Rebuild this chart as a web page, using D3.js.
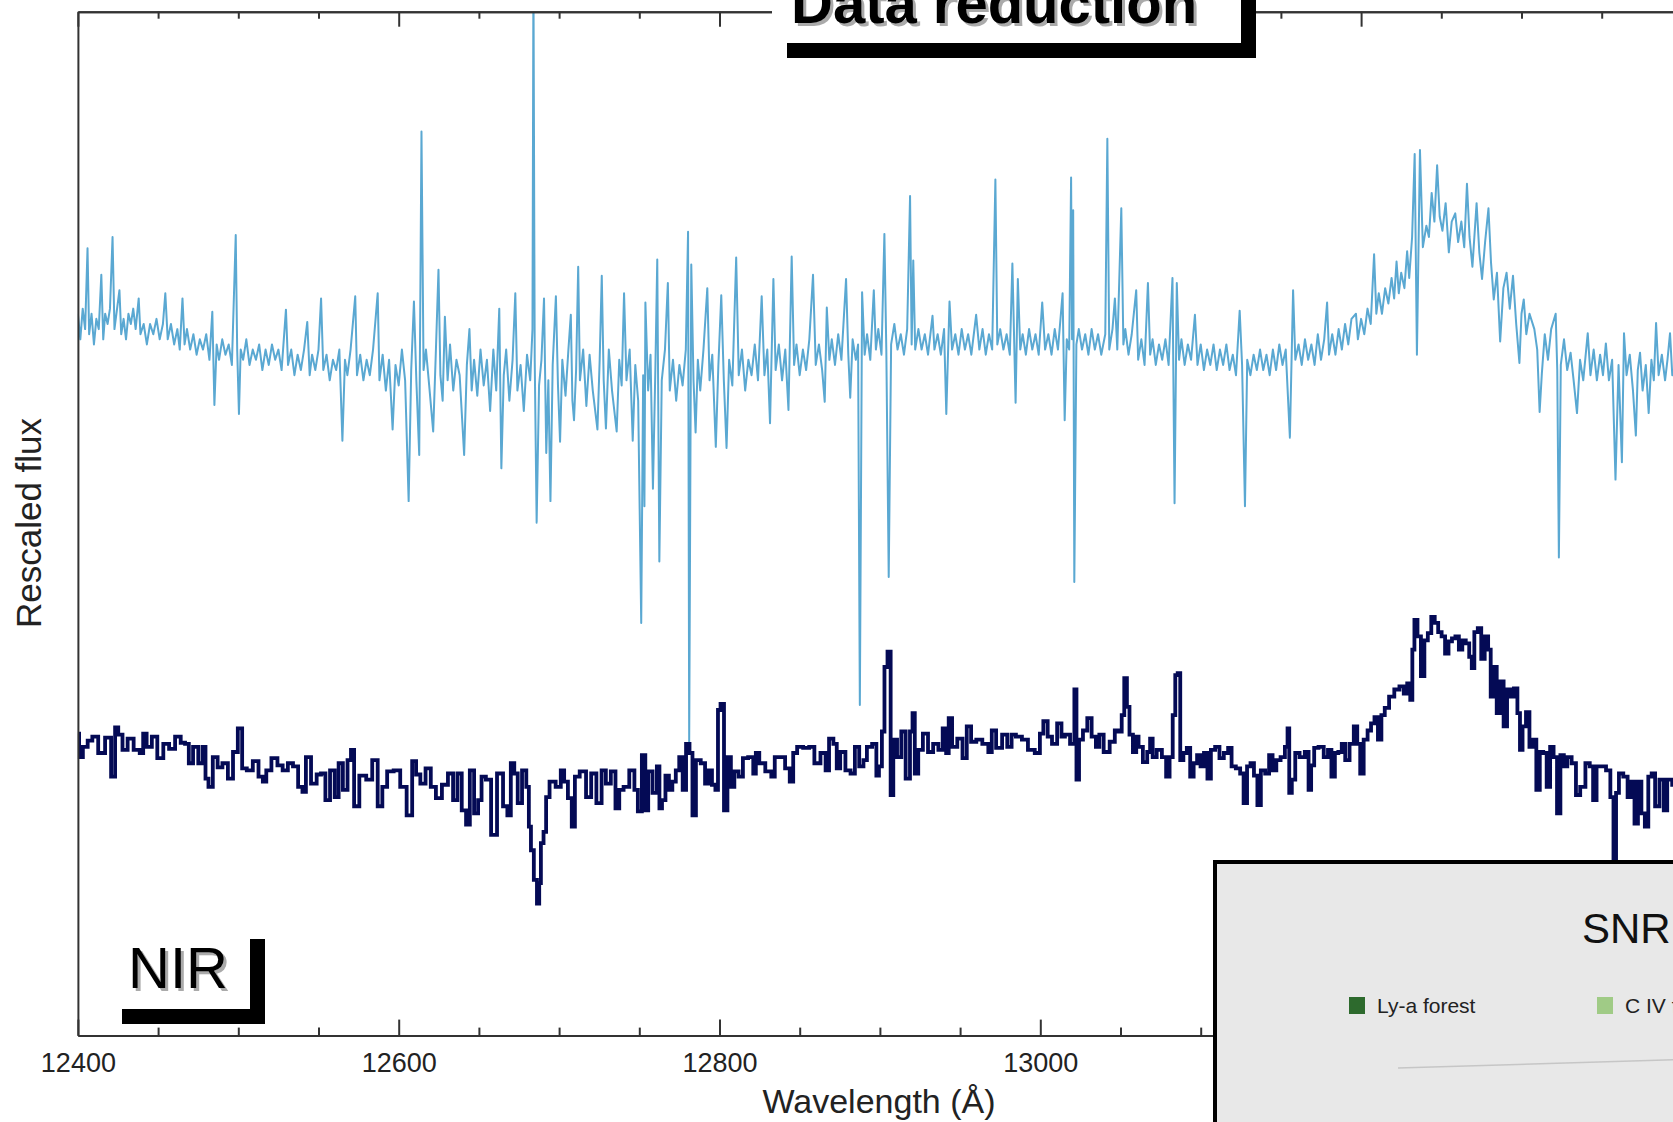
<!DOCTYPE html>
<html><head><meta charset="utf-8">
<script src="https://cdn.jsdelivr.net/npm/d3@7"></script>
<style>
html,body{margin:0;padding:0;background:#fff;}
svg{display:block;}
text{font-family:"Liberation Sans",Arial,Helvetica,sans-serif;}
</style></head>
<body>
<svg id="chart" width="1673" height="1122"></svg>
<script>
// ---------- DATA ----------
const xDomain = [12400, 13400];
const yDomain = [0, 10];
const xMajorTicks = [12400, 12600, 12800, 13000, 13200, 13400];
const xMinorTicks = [12450, 12500, 12550, 12650, 12700, 12750, 12850, 12900, 12950, 13050, 13100, 13150, 13250, 13300, 13350];
const xTickLabels = ["12400", "12600", "12800", "13000", "13200", ""];
const xTitle = "Wavelength (Å)";
const yTitle = "Rescaled flux";
const panelTitle = "Data reduction";
const bandLabel = "NIR";
const insetTitle = "SNR";
const insetLegend = ["Ly-a forest", "C IV forest"];

// light blue: unbinned spectrum [wavelength, flux]
const rawSpectrum = [
[12400,7.05],[12401.5,6.80],[12403,7.10],[12404.5,6.90],[12406,7.69],[12407,6.85],[12408.5,7.05],[12410,6.75],[12411.5,7.00],[12413,6.90],[12414.6,7.43],[12415.8,6.80],[12417,7.05],[12418.5,6.95],[12420,7.10],[12421.6,7.80],[12422.8,6.90],[12424,7.05],[12425.9,7.28],[12427,6.85],[12428.5,7.00],[12430,6.80],[12431.5,7.05],[12433,6.95],[12434.5,7.10],[12436,6.90],[12437.9,7.20],[12439,6.85],[12441,6.95],[12443,6.75],[12445,6.95],[12447,6.85],[12449,7.00],[12451,6.80],[12453,6.95],[12454.5,7.25],[12456,6.80],[12458,6.95],[12460,6.75],[12462,6.90],[12463.5,6.70],[12465.2,7.20],[12466.5,6.75],[12468,6.90],[12470,6.70],[12472,6.85],[12474,6.65],[12476,6.80],[12478,6.70],[12480,6.85],[12482,6.60],[12483.8,7.07],[12485.1,6.16],[12486.5,6.75],[12488,6.60],[12490,6.80],[12492,6.65],[12494,6.75],[12496,6.55],[12498.4,7.82],[12499.3,6.70],[12500.4,6.07],[12501.5,6.70],[12503,6.60],[12505,6.80],[12507,6.55],[12509,6.70],[12511,6.60],[12513,6.75],[12515,6.50],[12517,6.70],[12519,6.55],[12521,6.75],[12523,6.60],[12525,6.70],[12527,6.50],[12529.7,7.09],[12531,6.55],[12533,6.70],[12535,6.45],[12537,6.65],[12539,6.50],[12541,6.70],[12543,6.97],[12544.5,6.45],[12546,6.65],[12548,6.50],[12550,6.70],[12551.6,7.20],[12553,6.50],[12555,6.65],[12557,6.40],[12559,6.60],[12561,6.50],[12563,6.70],[12564.9,5.81],[12566.5,6.60],[12568,6.45],[12570,6.70],[12572.9,7.22],[12574,6.45],[12576,6.65],[12578,6.40],[12580,6.60],[12582,6.45],[12584,6.70],[12586.9,7.25],[12588,6.40],[12590,6.65],[12592,6.30],[12594,6.60],[12596.2,5.92],[12598,6.55],[12600,6.35],[12602,6.70],[12604,6.40],[12606.2,5.22],[12607.8,6.50],[12609.5,7.17],[12611,6.40],[12612.8,5.67],[12614.2,8.83],[12615.5,6.50],[12617,6.70],[12619,6.35],[12621.5,5.90],[12623,6.60],[12624.8,7.48],[12626,6.45],[12627.4,6.20],[12628.8,7.02],[12630.5,6.40],[12632,6.75],[12634,6.30],[12636,6.60],[12638,6.45],[12640.8,5.67],[12642.5,6.55],[12644.1,6.90],[12645.5,6.30],[12647,6.60],[12649,6.25],[12651,6.70],[12653,6.35],[12655,6.60],[12657,6.10],[12659,6.70],[12660.8,6.30],[12662.7,7.10],[12664,5.54],[12665.5,6.45],[12667,6.70],[12669,6.20],[12671,6.60],[12672.7,7.25],[12674,6.30],[12676,6.55],[12678,6.10],[12680,6.65],[12682,6.40],[12683.4,6.90],[12684,10.4],[12684.8,6.60],[12686,5.01],[12687.5,6.35],[12689,6.60],[12690.6,7.20],[12692,5.69],[12693.3,6.40],[12694.6,5.22],[12696,6.55],[12698,7.22],[12699.3,6.35],[12700.6,5.80],[12702,6.60],[12704,6.25],[12705.8,6.70],[12707.3,7.04],[12708.3,6.20],[12709.3,6.01],[12710.6,6.50],[12711.9,7.51],[12713,6.40],[12715,6.70],[12717,6.15],[12719,6.65],[12721,6.30],[12723.9,5.92],[12725.3,6.60],[12726.6,7.42],[12727.8,6.40],[12729.2,5.93],[12731,6.70],[12733,6.30],[12735.9,5.90],[12737.5,6.60],[12739,6.35],[12740.5,7.25],[12742,6.40],[12744,6.70],[12745.9,5.81],[12747.5,6.55],[12749.3,6.20],[12751.2,4.03],[12752.4,6.45],[12753.2,5.17],[12753.8,7.16],[12755.5,6.30],[12757,6.65],[12758.5,5.34],[12760,6.50],[12761.2,7.58],[12762.5,4.63],[12764,6.40],[12766,6.70],[12767.8,7.35],[12769,6.30],[12771,6.60],[12773,6.20],[12775,6.55],[12777,6.35],[12779,6.70],[12780.4,7.85],[12781.1,2.86],[12782.4,7.53],[12783.8,6.40],[12785.1,5.89],[12786.5,6.60],[12788,6.30],[12790,6.70],[12792.4,7.30],[12793.8,6.40],[12795.5,6.65],[12797.7,5.75],[12799.3,6.55],[12801.1,7.23],[12802.7,6.40],[12804.4,5.74],[12806,6.60],[12808,6.35],[12810.4,7.60],[12812,6.45],[12814,6.70],[12816,6.30],[12818,6.60],[12820,6.45],[12822,6.75],[12824,6.40],[12826.3,7.22],[12828,6.45],[12829.8,6.70],[12831.5,5.98],[12833.6,7.39],[12835,6.50],[12837,6.75],[12839,6.40],[12841,6.70],[12843,6.11],[12845,7.61],[12846.5,6.55],[12848,6.75],[12850,6.45],[12852,6.70],[12854,6.50],[12856,6.80],[12858.3,7.43],[12860,6.55],[12862,6.75],[12864,6.50],[12865.6,6.19],[12866.9,7.11],[12868.5,6.60],[12870,6.80],[12872,6.55],[12874,6.85],[12876,6.60],[12878.9,7.39],[12880.3,6.65],[12881.5,6.23],[12883,6.80],[12885,6.60],[12886.4,6.75],[12887.5,3.23],[12888.9,7.26],[12890.5,6.65],[12892,6.85],[12894,6.60],[12896.2,7.28],[12897.5,6.70],[12899,6.90],[12901,6.65],[12902.8,7.83],[12904,6.70],[12905.5,4.48],[12907,6.75],[12909,6.95],[12911,6.70],[12913,6.85],[12915,6.65],[12917,6.90],[12918.8,8.20],[12919.8,6.75],[12920.8,7.57],[12922,6.70],[12924,6.90],[12926,6.70],[12928,6.85],[12930,6.65],[12932.8,7.03],[12934,6.70],[12936,6.85],[12938,6.65],[12940,6.90],[12941.4,6.07],[12943.4,7.17],[12945,6.70],[12947,6.85],[12949,6.65],[12951,6.90],[12953,6.70],[12955,6.85],[12957,6.65],[12960,7.04],[12962,6.70],[12964,6.90],[12966,6.65],[12968,6.85],[12970,6.70],[12972,8.36],[12973.2,6.75],[12975,6.90],[12977,6.70],[12979,6.85],[12981,6.65],[12982.6,7.54],[12984.6,6.18],[12986,7.39],[12987.5,6.70],[12989,6.85],[12991,6.65],[12993,6.90],[12995,6.70],[12997,6.85],[12999,6.65],[13001.2,7.16],[13003,6.70],[13005,6.85],[13007,6.65],[13009,6.90],[13011,6.70],[13013.9,7.25],[13015.2,6.01],[13016.5,6.80],[13018,6.70],[13019.2,8.38],[13019.8,6.80],[13020.5,8.06],[13021.2,4.43],[13022.5,6.75],[13024,6.90],[13026,6.70],[13028,6.85],[13030,6.65],[13032,6.90],[13034,6.70],[13036,6.85],[13038,6.65],[13040.5,6.85],[13041.8,8.76],[13043,6.70],[13045,6.90],[13046.5,7.20],[13048,6.70],[13050.5,8.08],[13051.8,6.75],[13053,6.90],[13055,6.65],[13057,6.85],[13059.8,7.28],[13061,6.60],[13063,6.80],[13065,6.55],[13067.1,7.35],[13068.5,6.65],[13070,6.80],[13072,6.55],[13074,6.75],[13076,6.60],[13078,6.80],[13080,6.55],[13082.4,7.40],[13083.7,5.20],[13085.1,7.35],[13086.5,6.60],[13088,6.80],[13090,6.55],[13092,6.75],[13094,6.60],[13096.4,7.04],[13098,6.55],[13100,6.75],[13102,6.50],[13104,6.70],[13106,6.55],[13108,6.75],[13110,6.50],[13112,6.70],[13114,6.55],[13116,6.75],[13118,6.50],[13120,6.65],[13122,6.45],[13124.3,7.08],[13125.8,6.55],[13127.6,5.17],[13129,6.60],[13131,6.45],[13133,6.65],[13135,6.50],[13137,6.70],[13139,6.50],[13141,6.65],[13143,6.45],[13145,6.70],[13147,6.50],[13149,6.75],[13151,6.55],[13153,6.70],[13155.6,5.84],[13157.6,7.28],[13159,6.60],[13161,6.75],[13163,6.55],[13165,6.80],[13167,6.60],[13169,6.75],[13171,6.55],[13173,6.85],[13175,6.60],[13177,6.80],[13178.8,7.16],[13180,6.65],[13182,6.85],[13184,6.65],[13186,6.90],[13188,6.70],[13190,6.95],[13192,6.75],[13194,7.00],[13196.8,7.05],[13198,6.80],[13200,7.00],[13202,6.85],[13204,7.10],[13206,6.95],[13208.1,7.63],[13209.5,7.05],[13211,7.25],[13213,7.05],[13215,7.30],[13217,7.15],[13219,7.40],[13220.6,7.20],[13222.1,7.56],[13223.5,7.25],[13225,7.45],[13227,7.30],[13228.7,7.66],[13230,7.40],[13231.8,7.80],[13233.4,8.61],[13234.8,6.65],[13236.7,8.65],[13238.5,7.70],[13240.7,7.91],[13242.3,7.80],[13244,8.23],[13245.7,7.95],[13247.4,8.50],[13249,8.00],[13250.7,7.86],[13252.7,8.13],[13254.7,7.65],[13256.5,7.95],[13258.7,8.03],[13260.5,7.75],[13262.5,7.95],[13264.3,7.70],[13266,8.32],[13267.6,7.80],[13269.4,7.51],[13272,8.13],[13273.7,7.65],[13275.4,7.39],[13277.3,7.75],[13279.4,8.08],[13281,7.55],[13282.7,7.19],[13284.7,7.45],[13286.7,6.78],[13288.7,7.30],[13290.7,7.45],[13292.7,7.10],[13294.7,7.42],[13296.7,6.95],[13298.7,6.57],[13300,7.05],[13301.4,7.19],[13303,6.85],[13305,7.05],[13308,6.90],[13309.8,6.70],[13311.3,6.09],[13312.7,6.47],[13314.5,6.85],[13316.5,6.60],[13318.5,6.90],[13321.3,7.05],[13322.3,6.50],[13323.3,4.67],[13324.5,6.55],[13326.5,6.80],[13328.5,6.50],[13330.6,6.67],[13332.5,6.40],[13334.6,6.08],[13336.5,6.60],[13338.5,6.40],[13341.3,6.86],[13343,6.45],[13345,6.70],[13347,6.40],[13349,6.65],[13350.8,6.45],[13352.6,6.76],[13354.5,6.40],[13356.5,6.60],[13358.6,5.43],[13360.5,6.55],[13362.6,5.60],[13363.9,6.86],[13365.5,6.45],[13367.5,6.65],[13369.5,6.30],[13371.3,5.86],[13372.5,6.50],[13373.9,6.67],[13375.5,6.30],[13377.5,6.55],[13379.3,6.08],[13381,6.60],[13382.5,6.40],[13383.9,6.96],[13385.5,6.45],[13387.5,6.65],[13389.5,6.40],[13391,6.60],[13392.6,6.86],[13394,6.45],[13396,6.55]
];

// navy: binned / reduced spectrum [wavelength, flux]
const reducedSpectrum = [
[12400,2.95],[12401.5,2.72],[12404.7,2.82],[12407.5,2.88],[12410.5,2.92],[12414.8,2.76],[12419.1,2.91],[12422.3,2.53],[12424.1,3.01],[12426.2,2.94],[12429.4,2.79],[12432.6,2.90],[12436.9,2.79],[12440.2,2.76],[12441.2,2.95],[12444.5,2.82],[12447.7,2.92],[12451.3,2.71],[12455.2,2.85],[12458.5,2.80],[12462.7,2.92],[12465.5,2.86],[12468.1,2.85],[12470.2,2.66],[12473.4,2.82],[12476.7,2.66],[12478.8,2.82],[12480.3,2.51],[12482.5,2.43],[12485.7,2.72],[12488.5,2.62],[12491.7,2.66],[12495.3,2.51],[12498.1,2.77],[12501.3,3.00],[12503.5,2.61],[12507.1,2.59],[12511.0,2.68],[12514.2,2.53],[12516.4,2.48],[12518.5,2.59],[12522.8,2.71],[12526.0,2.64],[12529.3,2.59],[12532.5,2.66],[12535.7,2.63],[12538.9,2.43],[12541.1,2.38],[12543.2,2.72],[12547.5,2.46],[12550.2,2.55],[12552.9,2.56],[12555.7,2.30],[12558.7,2.59],[12561.5,2.33],[12563.6,2.66],[12566.8,2.40],[12569.4,2.69],[12571.1,2.79],[12573.3,2.24],[12577.6,2.54],[12581.9,2.50],[12585.1,2.69],[12588.7,2.24],[12590.9,2.43],[12594.7,2.58],[12599.0,2.59],[12602.9,2.43],[12607.0,2.15],[12609.8,2.68],[12611.9,2.55],[12615.1,2.46],[12618.4,2.61],[12621.6,2.43],[12624.8,2.32],[12629.1,2.45],[12632.3,2.56],[12635.5,2.30],[12637.7,2.56],[12640.9,2.20],[12643.1,2.06],[12645.6,2.59],[12648.4,2.17],[12650.6,2.30],[12652.7,2.53],[12656.0,2.50],[12659.2,1.96],[12663.4,2.56],[12666.7,2.24],[12668.8,2.15],[12671.0,2.66],[12673.1,2.56],[12675.3,2.27],[12678.5,2.59],[12680.6,2.43],[12681.7,2.04],[12683.2,1.81],[12685.3,1.52],[12687.1,1.29],[12688.1,1.49],[12689.2,1.88],[12691.4,1.99],[12692.4,2.33],[12695.7,2.48],[12700.0,2.43],[12702.1,2.59],[12704.2,2.48],[12706.8,2.32],[12709.0,2.04],[12710.7,2.53],[12715.0,2.58],[12718.6,2.33],[12721.4,2.56],[12725.1,2.27],[12727.9,2.59],[12730.4,2.46],
[12734.1,2.58],[12736.2,2.22],[12738.8,2.40],[12741.6,2.43],[12745.9,2.59],[12748.0,2.40],[12750.2,2.19],[12753.0,2.74],[12754.5,2.20],[12756.6,2.58],[12759.9,2.37],[12762.0,2.63],[12763.1,2.22],[12765.2,2.30],[12767.4,2.54],[12769.5,2.40],[12771.7,2.48],[12773.8,2.59],[12776.0,2.72],[12778.1,2.40],[12780.2,2.85],[12782.4,2.76],[12783.9,2.15],[12786.7,2.69],[12789.9,2.66],[12792.1,2.46],[12794.2,2.59],[12796.4,2.45],[12798.5,2.40],[12799.6,3.18],[12801.7,3.24],[12803.9,2.20],[12806.0,2.72],[12808.2,2.43],[12810.3,2.58],[12813.5,2.53],[12815.7,2.71],[12820.0,2.72],[12822.1,2.56],[12823.2,2.76],[12826.4,2.66],[12830.7,2.58],[12833.9,2.53],[12835.0,2.72],[12839.3,2.72],[12842.5,2.61],[12845.1,2.48],[12846.8,2.76],[12850.0,2.82],[12854.3,2.81],[12857.5,2.82],[12860.8,2.66],[12865.1,2.76],[12867.2,2.59],[12869.4,2.90],[12872.6,2.85],[12873.6,2.61],[12876.9,2.77],[12880.1,2.59],[12883.3,2.56],[12885.5,2.82],[12888.7,2.63],[12890.8,2.69],[12893.0,2.82],[12897.3,2.85],[12898.3,2.54],[12900.5,2.63],[12902.0,2.97],[12903.7,3.60],[12905.8,3.75],[12907.6,2.35],[12909.1,2.89],[12912.3,2.72],[12914.4,2.97],[12917.7,2.51],[12919.8,2.97],[12920.9,3.15],[12922.6,2.56],[12925.2,2.79],[12928.4,2.95],[12931.6,2.77],[12934.8,2.85],[12938.1,2.79],[12940.2,3.00],[12942.4,2.76],[12943.4,3.10],[12946.6,2.82],[12949.9,2.90],[12953.1,2.71],[12955.2,3.02],[12958.5,2.87],[12961.7,2.89],[12966.0,2.85],[12969.2,2.77],[12970.3,2.98],[12974.6,2.81],[12977.8,2.94],[12981.0,2.82],[12983.2,2.94],[12986.4,2.92],[12990.7,2.89],[12993.9,2.79],[12999.2,2.76],[13000.3,2.95],[13003.5,3.07],[13005.7,2.92],[13008.9,2.85],[13012.1,3.05],[13014.3,2.92],[13016.4,2.94],[13020.7,2.85],[13021.8,3.38],[13023.3,2.50],[13025.0,2.89],[13028.2,2.98],[13030.4,3.10],[13033.6,2.92],[13035.7,2.82],[13037.9,2.94],[13041.1,2.77],[13045.4,2.87],[13047.5,2.98],[13049.7,2.97],[13051.8,3.13],[13052.9,3.49],[13055.1,3.21],[13056.1,2.94],[13059.4,2.77],
[13060.2,2.92],[13062.3,2.82],[13065.6,2.67],[13067.7,2.77],[13069.2,2.90],[13070.9,2.72],[13074.2,2.79],[13077.4,2.72],[13079.5,2.53],[13081.7,2.72],[13083.4,3.13],[13084.9,3.52],[13086.4,3.54],[13088.1,2.69],[13090.3,2.76],[13092.4,2.81],[13094.5,2.53],[13096.7,2.66],[13098.8,2.74],[13101.0,2.63],[13103.1,2.76],[13105.3,2.51],[13107.4,2.79],[13110.6,2.82],[13112.8,2.71],[13116.0,2.76],[13118.2,2.81],[13120.3,2.63],[13123.5,2.61],[13125.7,2.56],[13127.8,2.27],[13130.0,2.63],[13132.1,2.66],[13134.3,2.54],[13136.4,2.25],[13138.6,2.59],[13141.8,2.56],[13143.5,2.74],[13146.1,2.59],[13148.2,2.69],[13151.4,2.72],[13153.6,2.82],[13154.7,3.00],[13155.7,2.37],[13157.9,2.50],[13160.0,2.76],[13163.3,2.72],[13166.5,2.77],[13168.0,2.40],[13169.7,2.64],[13171.8,2.81],[13175.1,2.82],[13178.3,2.72],[13180.4,2.79],[13182.6,2.53],[13184.7,2.76],[13186.9,2.77],[13189.0,2.85],[13191.2,2.69],[13194.4,2.85],[13196.5,3.02],[13198.7,2.85],[13200.2,2.56],[13203.0,2.89],[13205.1,2.98],[13207.3,3.05],[13209.4,3.11],[13211.6,2.89],[13213.7,3.13],[13215.8,3.20],[13219.1,3.31],[13222.3,3.38],[13225.5,3.41],[13227.7,3.34],[13229.8,3.44],[13231.5,3.28],[13232.4,3.77],[13234.1,4.06],[13236.2,3.90],[13238.4,3.51],[13240.5,3.86],[13242.7,3.93],[13244.8,4.09],[13247.0,4.03],[13249.1,3.94],[13251.3,3.90],[13253.4,3.73],[13255.6,3.85],[13257.7,3.88],[13259.9,3.90],[13262.0,3.77],[13264.2,3.86],[13266.3,3.83],[13268.5,3.70],[13269.5,3.59],[13271.7,3.94],[13273.8,3.98],[13276.0,3.68],[13278.1,3.90],[13280.3,3.77],[13281.3,3.31],[13283.5,3.60],[13285.6,3.15],[13287.8,3.46],[13289.9,3.02],[13292.1,3.38],[13294.2,3.31],[13296.4,3.39],[13298.5,3.15],[13299.6,2.79],[13301.7,3.02],[13303.9,3.16],[13306.0,2.82],[13308.2,2.89],[13310.3,2.40],[13312.5,2.77],[13314.6,2.76],[13316.8,2.43],[13318.9,2.82],[13321.1,2.72],[13323.2,2.17],[13325.3,2.74],[13327.5,2.63],[13329.6,2.72],[13332.9,2.66],[13335.0,2.35],[13338.2,2.43],[13341.5,2.66],[13343.6,2.63],[13345.7,2.30],[13347.9,2.63],[13351.1,2.63],[13354.3,2.59],[13356.5,2.33],[13358.2,1.68],[13359.7,2.37],[13361.8,2.56],[13365.1,2.53],[13367.2,2.33],[13369.4,2.48],[13371.5,2.07],[13373.7,2.48],[13375.8,2.17],[13378.0,2.04],[13380.1,2.53],[13382.2,2.56],[13384.4,2.24],[13387.6,2.50],[13389.8,2.20],[13391.9,2.50],[13396.0,2.45]
];

// ---------- LAYOUT ----------
const svg = d3.select("#chart");
const plot = {left: 77.9, right: 1681.9, top: 11.7, bottom: 1035.6};
const x = d3.scaleLinear().domain(xDomain).range([plot.left, plot.right]);
const y = d3.scaleLinear().domain(yDomain).range([plot.bottom, plot.top]);

svg.append("defs").append("clipPath").attr("id", "clip")
  .append("rect").attr("x", plot.left).attr("y", plot.top)
  .attr("width", plot.right - plot.left).attr("height", plot.bottom - plot.top);

const gSpec = svg.append("g").attr("clip-path", "url(#clip)");

gSpec.append("path").datum(rawSpectrum)
  .attr("fill", "none").attr("stroke", "#5aa8d2").attr("stroke-width", 2)
  .attr("stroke-linejoin", "round")
  .attr("d", d3.line().x(d => x(d[0])).y(d => y(d[1])));

gSpec.append("path").datum(reducedSpectrum)
  .attr("fill", "none").attr("stroke", "#040a55").attr("stroke-width", 3.8)
  .attr("d", d3.line().curve(d3.curveStep).x(d => x(d[0])).y(d => y(d[1])));

// ---------- AXES ----------
const axisColor = "#333";
function styleAxis(sel) {
  sel.selectAll("path.domain").attr("stroke", axisColor).attr("stroke-width", 2);
  sel.selectAll(".tick line").attr("stroke", axisColor).attr("stroke-width", 2);
}
const labelMap = new Map(xMajorTicks.map((v, i) => [v, xTickLabels[i]]));

const axBottom = svg.append("g").attr("transform", `translate(0,${plot.bottom})`)
  .call(d3.axisBottom(x).tickValues(xMajorTicks).tickSizeInner(-16).tickSizeOuter(0)
    .tickPadding(17).tickFormat(d => labelMap.get(d)));
styleAxis(axBottom);
axBottom.selectAll(".tick text").attr("font-size", 27).attr("fill", "#222")
  .attr("font-family", "Liberation Sans, Arial, sans-serif");

const axBottomMinor = svg.append("g").attr("transform", `translate(0,${plot.bottom})`)
  .call(d3.axisBottom(x).tickValues(xMinorTicks).tickSizeInner(-8).tickSizeOuter(0).tickFormat(""));
styleAxis(axBottomMinor);

const axTop = svg.append("g").attr("transform", `translate(0,${plot.top})`)
  .call(d3.axisTop(x).tickValues(xMajorTicks).tickSizeInner(-15).tickSizeOuter(0).tickFormat(""));
styleAxis(axTop);
const axTopMinor = svg.append("g").attr("transform", `translate(0,${plot.top})`)
  .call(d3.axisTop(x).tickValues(xMinorTicks).tickSizeInner(-7).tickSizeOuter(0).tickFormat(""));
styleAxis(axTopMinor);

const axLeft = svg.append("g").attr("transform", `translate(${plot.left},0)`)
  .call(d3.axisLeft(y).tickValues([]).tickSizeOuter(0));
styleAxis(axLeft);

// axis titles
svg.append("text").attr("x", 879).attr("y", 1113).attr("text-anchor", "middle")
  .attr("font-size", 34).attr("fill", "#222").text(xTitle);
svg.append("text").attr("transform", "translate(41,523) rotate(-90)").attr("text-anchor", "middle")
  .attr("font-size", 35).attr("fill", "#222").text(yTitle);

// ---------- TITLE BOX ----------
const tb = svg.append("g");
tb.append("rect").attr("x", 787).attr("y", -40).attr("width", 469).attr("height", 98).attr("fill", "#000");
tb.append("rect").attr("x", 772).attr("y", -55).attr("width", 469).attr("height", 98).attr("fill", "#fff");
tb.append("text").attr("x", 794).attr("y", 26).attr("font-size", 58).attr("font-weight", "bold")
  .attr("fill", "#aaa").text(panelTitle);
tb.append("text").attr("x", 791).attr("y", 23).attr("font-size", 58).attr("font-weight", "bold")
  .attr("fill", "#000").text(panelTitle);

// ---------- NIR LABEL ----------
const nb = svg.append("g");
nb.append("rect").attr("x", 122).attr("y", 939).attr("width", 143).attr("height", 85).attr("fill", "#000");
nb.append("rect").attr("x", 107).attr("y", 924).attr("width", 143).attr("height", 85).attr("fill", "#fff");
nb.append("text").attr("x", 131).attr("y", 991).attr("font-size", 58).attr("fill", "#aaa").text(bandLabel);
nb.append("text").attr("x", 128).attr("y", 988).attr("font-size", 58).attr("fill", "#000").text(bandLabel);

// ---------- SNR INSET ----------
const inset = svg.append("g");
inset.append("rect").attr("x", 1215).attr("y", 862).attr("width", 520).attr("height", 320)
  .attr("fill", "#e8e8e8").attr("stroke", "#000").attr("stroke-width", 4);
inset.append("text").attr("x", 1582).attr("y", 943).attr("font-size", 42).attr("font-weight", 300)
  .attr("fill", "#111").text(insetTitle);
const legColors = ["#2d6a2d", "#a0cb86"];
const legX = [1349, 1597];
insetLegend.forEach((t, i) => {
  inset.append("rect").attr("x", legX[i]).attr("y", 997).attr("width", 16).attr("height", 17).attr("fill", legColors[i]);
  inset.append("text").attr("x", legX[i] + 28).attr("y", 1013).attr("font-size", 21).attr("font-weight", 300)
    .attr("fill", "#222").text(t);
});
inset.append("line").attr("x1", 1398).attr("y1", 1068).attr("x2", 1700).attr("y2", 1059)
  .attr("stroke", "#c6c6c6").attr("stroke-width", 1.5);
</script>
</body></html>
